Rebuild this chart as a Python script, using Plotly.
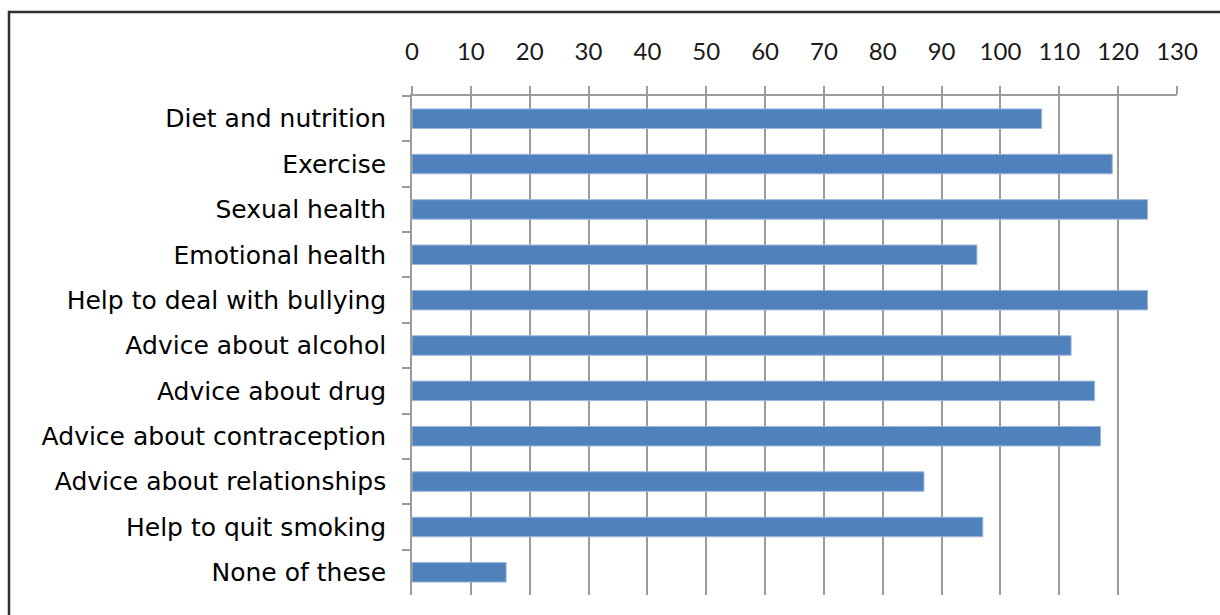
import plotly.graph_objects as go

# Survey responses: which health services respondents would like
categories = [
    "Diet and nutrition",
    "Exercise",
    "Sexual health",
    "Emotional health",
    "Help to deal with bullying",
    "Advice about alcohol",
    "Advice about drug",
    "Advice about contraception",
    "Advice about relationships",
    "Help to quit smoking",
    "None of these",
]
counts = [107, 119, 125, 96, 125, 112, 116, 117, 87, 97, 16]
x_ticks = list(range(0, 131, 10))

W, H = 1220, 615
M_L, M_R, M_T, M_B = 412, 43, 96, 20
plot_w = W - M_L - M_R
plot_h = H - M_T - M_B


def px_x(p):
    return (p - M_L) / plot_w


def px_y(p):
    return 1 - (p - M_T) / plot_h


fig = go.Figure(
    go.Bar(
        x=counts,
        y=categories,
        orientation="h",
        marker=dict(color="#4F81BD", line=dict(color="#9DB7DC", width=1)),
        hoverinfo="x+y",
    )
)

fig.update_layout(
    width=W,
    height=H,
    margin=dict(l=M_L, r=M_R, t=M_T, b=M_B, pad=0),
    paper_bgcolor="white",
    plot_bgcolor="white",
    bargap=0.57,
    showlegend=False,
    shapes=[
        # chart frame (extends past the right and bottom edges)
        dict(
            type="rect", xref="paper", yref="paper",
            x0=px_x(9), x1=px_x(W + 20), y0=px_y(H + 20), y1=px_y(12),
            line=dict(color="#2E2E2E", width=2.5), fillcolor="rgba(0,0,0,0)",
            layer="above",
        )
    ],
)

fig.update_xaxes(
    side="top",
    range=[0, 130],
    tickvals=x_ticks,
    ticktext=[str(v) for v in x_ticks],
    showgrid=True,
    gridcolor="#9C9C9C",
    gridwidth=1.6,
    zeroline=False,
    showline=True,
    linecolor="#9C9C9C",
    linewidth=1.6,
    ticks="outside",
    ticklen=8,
    tickwidth=1.6,
    tickcolor="#9C9C9C",
    ticklabelstandoff=17,
    tickfont=dict(family="Lato", size=24, color="#1A1A1A"),
)

fig.update_yaxes(
    categoryorder="array",
    categoryarray=categories,
    autorange="reversed",
    showgrid=False,
    zeroline=False,
    showline=True,
    linecolor="#9C9C9C",
    linewidth=1.6,
    ticks="outside",
    tickson="boundaries",
    ticklen=8,
    tickwidth=1.6,
    tickcolor="#9C9C9C",
    ticklabelstandoff=19,
    tickfont=dict(family="DejaVu Sans", size=25, color="#000000"),
)

fig.write_html("out.html")
